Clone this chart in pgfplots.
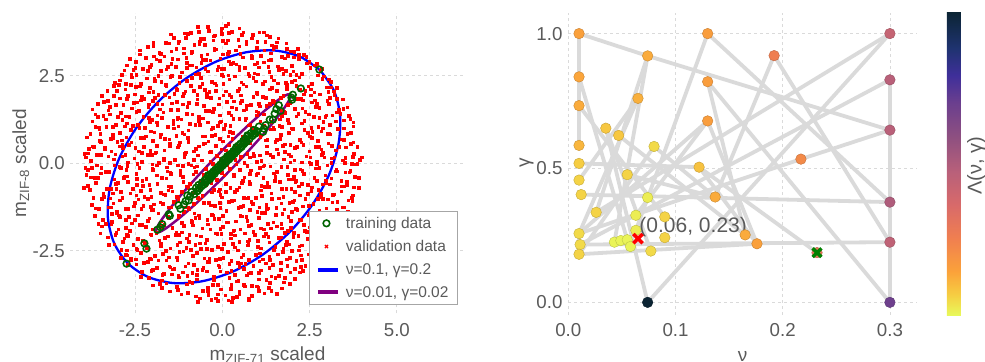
\documentclass[border=0pt]{standalone}
\usepackage{pgfplots}
\pgfplotsset{compat=1.18}
\usepackage{pgfplotstable}
\usepackage{fontspec}
\setmainfont{Liberation Sans}
\definecolor{txtgray}{RGB}{90,90,90}
\definecolor{gridgray}{RGB}{218,218,218}
\definecolor{edgegray}{RGB}{218,218,218}
\definecolor{traingreen}{RGB}{0,100,0}
\definecolor{svmblue}{RGB}{0,0,255}
\definecolor{svmpurple}{RGB}{128,0,128}
\definecolor{xgreen}{RGB}{0,128,0}
\newcommand{\ticksize}{\fontsize{18.7bp}{22bp}\selectfont}
\newcommand{\legsize}{\fontsize{15.5bp}{18bp}\selectfont}
\newcommand{\labsize}{\fontsize{19bp}{23bp}\selectfont}
\tikzset{edge/.style={draw=edgegray, line width=3.8bp}}
\pgfplotsset{linelegend/.style={legend image code/.code={\draw[##1, line width=4bp] (0bp,0bp) -- (20bp,0bp);}}}
\begin{document}
\pgfplotstableread[row sep=\\]{
x y\\
-0.70 -3.96\\ -0.40 -3.76\\ -0.18 -3.86\\ 0.27 -3.95\\ 0.42 -3.82\\ 0.75 -3.90\\
-1.50 -3.66\\ -1.30 -3.53\\ -0.99 -3.70\\ -0.56 -3.63\\ -0.42 -3.55\\ -0.13 -3.74\\ 0.24 -3.59\\ 0.48 -3.68\\ 0.65 -3.51\\ 1.05 -3.64\\ 1.33 -3.56\\ 1.55 -3.73\\
-2.00 -3.49\\ -1.73 -3.34\\ -1.61 -3.43\\ -1.25 -3.26\\ -0.95 -3.39\\ -0.73 -3.31\\ -0.28 -3.48\\ -0.13 -3.47\\ 0.20 -3.27\\ 0.46 -3.36\\ 0.85 -3.50\\ 1.05 -3.32\\ 1.36 -3.41\\ 1.79 -3.28\\ 1.93 -3.45\\
-2.33 -3.25\\ -2.04 -3.07\\ -1.67 -3.16\\ -1.43 -3.03\\ -1.26 -3.20\\ -0.86 -3.13\\ -0.58 -3.05\\ -0.24 -3.24\\ -0.06 -3.09\\ 0.35 -3.18\\ 0.62 -3.01\\ 0.74 -3.14\\ 1.10 -3.06\\ 1.40 -3.23\\ 1.62 -3.22\\ 2.07 -3.02\\ 2.22 -3.11\\
-2.62 -2.76\\ -2.47 -2.89\\ -2.14 -2.81\\ -1.88 -2.98\\ -1.49 -2.97\\ -1.29 -2.77\\ -0.98 -2.86\\ -0.55 -2.99\\ -0.41 -2.82\\ -0.12 -2.91\\ 0.25 -2.78\\ 0.49 -2.95\\ 0.66 -2.88\\ 1.06 -2.80\\ 1.34 -2.99\\ 1.68 -2.84\\ 1.86 -2.93\\ 2.27 -2.76\\ 2.54 -2.89\\ 2.66 -2.81\\
-2.90 -2.70\\ -2.73 -2.63\\ -2.33 -2.55\\ -2.05 -2.74\\ -1.71 -2.59\\ -1.53 -2.68\\ -1.12 -2.51\\ -0.85 -2.64\\ -0.73 -2.56\\ -0.37 -2.73\\ -0.07 -2.72\\ 0.15 -2.52\\ 0.60 -2.61\\ 0.75 -2.75\\ 1.08 -2.57\\ 1.34 -2.66\\ 1.73 -2.53\\ 1.93 -2.70\\ 2.24 -2.63\\ 2.67 -2.55\\ 2.81 -2.74\\
-3.10 -2.31\\ -2.74 -2.48\\ -2.44 -2.47\\ -2.22 -2.27\\ -1.77 -2.36\\ -1.62 -2.50\\ -1.29 -2.32\\ -1.03 -2.41\\ -0.64 -2.28\\ -0.44 -2.45\\ -0.13 -2.38\\ 0.30 -2.30\\ 0.44 -2.49\\ 0.73 -2.34\\ 1.10 -2.43\\ 1.34 -2.26\\ 1.51 -2.39\\ 1.91 -2.31\\ 2.19 -2.48\\ 2.53 -2.47\\ 2.71 -2.27\\ 3.12 -2.36\\
-3.28 -2.11\\ -2.85 -2.25\\ -2.71 -2.07\\ -2.42 -2.16\\ -2.05 -2.03\\ -1.81 -2.20\\ -1.64 -2.13\\ -1.24 -2.05\\ -0.96 -2.24\\ -0.62 -2.09\\ -0.44 -2.18\\ -0.03 -2.01\\ 0.24 -2.14\\ 0.36 -2.06\\ 0.72 -2.23\\ 1.02 -2.22\\ 1.24 -2.02\\ 1.69 -2.11\\ 1.84 -2.25\\ 2.17 -2.07\\ 2.43 -2.16\\ 2.82 -2.03\\ 3.02 -2.20\\ 3.33 -2.13\\
-3.45 -1.80\\ -3.04 -1.99\\ -2.77 -1.84\\ -2.65 -1.93\\ -2.29 -1.76\\ -1.99 -1.89\\ -1.77 -1.81\\ -1.32 -1.98\\ -1.17 -1.97\\ -0.84 -1.77\\ -0.58 -1.86\\ -0.19 -2.00\\ 0.01 -1.82\\ 0.32 -1.91\\ 0.75 -1.78\\ 0.89 -1.95\\ 1.18 -1.88\\ 1.55 -1.80\\ 1.79 -1.99\\ 1.96 -1.84\\ 2.36 -1.93\\ 2.64 -1.76\\ 2.98 -1.89\\ 3.16 -1.81\\ 3.45 -1.98\\
-3.55 -1.73\\ -3.18 -1.72\\ -2.94 -1.52\\ -2.77 -1.61\\ -2.37 -1.75\\ -2.09 -1.57\\ -1.75 -1.66\\ -1.57 -1.53\\ -1.16 -1.70\\ -0.89 -1.63\\ -0.77 -1.55\\ -0.41 -1.74\\ -0.11 -1.59\\ 0.11 -1.68\\ 0.56 -1.51\\ 0.71 -1.64\\ 1.04 -1.56\\ 1.30 -1.73\\ 1.69 -1.72\\ 1.89 -1.52\\ 2.20 -1.61\\ 2.63 -1.75\\ 2.77 -1.57\\ 3.06 -1.66\\ 3.43 -1.53\\
-3.62 -1.28\\ -3.17 -1.45\\ -3.02 -1.38\\ -2.69 -1.30\\ -2.43 -1.49\\ -2.04 -1.34\\ -1.84 -1.43\\ -1.53 -1.26\\ -1.10 -1.39\\ -0.96 -1.31\\ -0.67 -1.48\\ -0.30 -1.47\\ -0.06 -1.27\\ 0.11 -1.36\\ 0.51 -1.50\\ 0.79 -1.32\\ 1.13 -1.41\\ 1.31 -1.28\\ 1.72 -1.45\\ 1.99 -1.38\\ 2.11 -1.30\\ 2.47 -1.49\\ 2.77 -1.34\\ 2.99 -1.43\\ 3.44 -1.26\\ 3.59 -1.39\\
-3.74 -1.18\\ -3.46 -1.01\\ -3.12 -1.14\\ -2.94 -1.06\\ -2.53 -1.23\\ -2.26 -1.22\\ -2.14 -1.02\\ -1.78 -1.11\\ -1.48 -1.25\\ -1.26 -1.07\\ -0.81 -1.16\\ -0.66 -1.03\\ -0.33 -1.20\\ -0.07 -1.13\\ 0.32 -1.05\\ 0.52 -1.24\\ 0.83 -1.09\\ 1.26 -1.18\\ 1.40 -1.01\\ 1.69 -1.14\\ 2.06 -1.06\\ 2.30 -1.23\\ 2.47 -1.22\\ 2.87 -1.02\\ 3.15 -1.11\\ 3.49 -1.25\\ 3.72 -1.08\\
-3.80 -0.76\\ -3.41 -0.86\\ -3.21 -1.00\\ -2.90 -0.82\\ -2.47 -0.91\\ -2.33 -0.78\\ -2.04 -0.95\\ -1.67 -0.88\\ -1.43 -0.80\\ -1.26 -0.99\\ -0.86 -0.84\\ -0.58 -0.93\\ -0.24 -0.76\\ -0.06 -0.89\\ 0.35 -0.81\\ 0.62 -0.98\\ 0.74 -0.97\\ 1.10 -0.77\\ 1.40 -0.86\\ 1.62 -1.00\\ 2.07 -0.82\\ 2.22 -0.91\\ 2.55 -0.78\\ 2.81 -0.95\\ 3.20 -0.88\\ 3.40 -0.80\\ 3.71 -0.99\\
-3.86 -0.64\\ -3.64 -0.56\\ -3.19 -0.73\\ -3.04 -0.72\\ -2.71 -0.52\\ -2.45 -0.61\\ -2.06 -0.75\\ -1.86 -0.57\\ -1.55 -0.66\\ -1.12 -0.53\\ -0.98 -0.70\\ -0.69 -0.63\\ -0.32 -0.55\\ -0.08 -0.74\\ 0.09 -0.59\\ 0.49 -0.68\\ 0.77 -0.51\\ 1.11 -0.64\\ 1.29 -0.56\\ 1.70 -0.73\\ 1.97 -0.72\\ 2.09 -0.52\\ 2.45 -0.61\\ 2.75 -0.75\\ 2.97 -0.57\\ 3.42 -0.66\\ 3.57 -0.53\\ 3.90 -0.70\\
-3.90 -0.32\\ -3.66 -0.41\\ -3.49 -0.28\\ -3.09 -0.45\\ -2.81 -0.38\\ -2.47 -0.30\\ -2.29 -0.49\\ -1.88 -0.34\\ -1.61 -0.43\\ -1.49 -0.26\\ -1.13 -0.39\\ -0.83 -0.31\\ -0.61 -0.48\\ -0.16 -0.47\\ -0.01 -0.27\\ 0.32 -0.36\\ 0.58 -0.50\\ 0.97 -0.32\\ 1.17 -0.41\\ 1.48 -0.28\\ 1.91 -0.45\\ 2.05 -0.38\\ 2.34 -0.30\\ 2.71 -0.49\\ 2.95 -0.34\\ 3.12 -0.43\\ 3.52 -0.26\\ 3.80 -0.39\\
-3.93 -0.13\\ -3.60 -0.05\\ -3.34 -0.24\\ -2.95 -0.09\\ -2.75 -0.18\\ -2.44 -0.01\\ -2.01 -0.14\\ -1.87 -0.06\\ -1.58 -0.23\\ -1.21 -0.22\\ -0.97 -0.02\\ -0.80 -0.11\\ -0.40 -0.25\\ -0.12 -0.07\\ 0.22 -0.16\\ 0.40 -0.03\\ 0.81 -0.20\\ 1.08 -0.13\\ 1.20 -0.05\\ 1.56 -0.24\\ 1.86 -0.09\\ 2.08 -0.18\\ 2.53 -0.01\\ 2.68 -0.14\\ 3.01 -0.06\\ 3.27 -0.23\\ 3.66 -0.22\\ 3.86 -0.02\\
-3.91 0.17\\ -3.77 0.08\\ -3.48 0.25\\ -3.11 0.12\\ -2.87 0.20\\ -2.70 0.03\\ -2.30 0.04\\ -2.02 0.24\\ -1.68 0.15\\ -1.50 0.01\\ -1.09 0.19\\ -0.82 0.10\\ -0.70 0.23\\ -0.34 0.06\\ -0.04 0.13\\ 0.18 0.21\\ 0.63 0.02\\ 0.78 0.17\\ 1.11 0.08\\ 1.37 0.25\\ 1.76 0.12\\ 1.96 0.20\\ 2.27 0.03\\ 2.70 0.04\\ 2.84 0.24\\ 3.13 0.15\\ 3.50 0.01\\ 3.74 0.19\\ 3.93 0.10\\
-3.85 0.29\\ -3.73 0.49\\ -3.37 0.40\\ -3.07 0.26\\ -2.85 0.44\\ -2.40 0.35\\ -2.25 0.48\\ -1.92 0.31\\ -1.66 0.38\\ -1.27 0.46\\ -1.07 0.27\\ -0.76 0.42\\ -0.33 0.33\\ -0.19 0.50\\ 0.10 0.37\\ 0.47 0.45\\ 0.71 0.28\\ 0.88 0.29\\ 1.28 0.49\\ 1.56 0.40\\ 1.90 0.26\\ 2.08 0.44\\ 2.49 0.35\\ 2.76 0.48\\ 2.88 0.31\\ 3.24 0.38\\ 3.54 0.46\\ 3.76 0.27\\
-3.88 0.75\\ -3.48 0.62\\ -3.20 0.70\\ -2.86 0.53\\ -2.68 0.54\\ -2.27 0.74\\ -2.00 0.65\\ -1.88 0.51\\ -1.52 0.69\\ -1.22 0.60\\ -1.00 0.73\\ -0.55 0.56\\ -0.40 0.63\\ -0.07 0.71\\ 0.19 0.52\\ 0.58 0.67\\ 0.78 0.58\\ 1.09 0.75\\ 1.52 0.62\\ 1.66 0.70\\ 1.95 0.53\\ 2.32 0.54\\ 2.56 0.74\\ 2.73 0.65\\ 3.13 0.51\\ 3.41 0.69\\ 3.75 0.60\\
-3.78 0.85\\ -3.52 0.98\\ -3.13 0.81\\ -2.93 0.88\\ -2.62 0.96\\ -2.19 0.77\\ -2.05 0.92\\ -1.76 0.83\\ -1.39 1.00\\ -1.15 0.87\\ -0.98 0.95\\ -0.58 0.78\\ -0.30 0.79\\ 0.04 0.99\\ 0.22 0.90\\ 0.63 0.76\\ 0.90 0.94\\ 1.02 0.85\\ 1.38 0.98\\ 1.68 0.81\\ 1.90 0.88\\ 2.35 0.96\\ 2.50 0.77\\ 2.83 0.92\\ 3.09 0.83\\ 3.48 1.00\\ 3.68 0.87\\
-3.72 1.20\\ -3.54 1.03\\ -3.13 1.04\\ -2.86 1.24\\ -2.74 1.15\\ -2.38 1.01\\ -2.08 1.19\\ -1.86 1.10\\ -1.41 1.23\\ -1.26 1.06\\ -0.93 1.13\\ -0.67 1.21\\ -0.28 1.02\\ -0.08 1.17\\ 0.23 1.08\\ 0.66 1.25\\ 0.80 1.12\\ 1.09 1.20\\ 1.46 1.03\\ 1.70 1.04\\ 1.87 1.24\\ 2.27 1.15\\ 2.55 1.01\\ 2.89 1.19\\ 3.07 1.10\\ 3.48 1.23\\ 3.75 1.06\\
-3.64 1.40\\ -3.33 1.26\\ -2.90 1.44\\ -2.76 1.35\\ -2.47 1.48\\ -2.10 1.31\\ -1.86 1.38\\ -1.69 1.46\\ -1.29 1.27\\ -1.01 1.42\\ -0.67 1.33\\ -0.49 1.50\\ -0.08 1.37\\ 0.19 1.45\\ 0.31 1.28\\ 0.67 1.29\\ 0.97 1.49\\ 1.19 1.40\\ 1.64 1.26\\ 1.79 1.44\\ 2.12 1.35\\ 2.38 1.48\\ 2.77 1.31\\ 2.97 1.38\\ 3.28 1.46\\ 3.66 1.27\\
-3.57 1.71\\ -3.27 1.52\\ -3.05 1.67\\ -2.60 1.58\\ -2.45 1.75\\ -2.12 1.62\\ -1.86 1.70\\ -1.47 1.53\\ -1.27 1.54\\ -0.96 1.74\\ -0.53 1.65\\ -0.39 1.51\\ -0.10 1.69\\ 0.27 1.60\\ 0.51 1.73\\ 0.68 1.56\\ 1.08 1.63\\ 1.36 1.71\\ 1.70 1.52\\ 1.88 1.67\\ 2.29 1.58\\ 2.56 1.75\\ 2.68 1.62\\ 3.04 1.70\\ 3.34 1.53\\ 3.58 1.60\\
-3.40 1.76\\ -3.11 1.94\\ -2.74 1.85\\ -2.50 1.98\\ -2.33 1.81\\ -1.93 1.88\\ -1.65 1.96\\ -1.31 1.77\\ -1.13 1.92\\ -0.72 1.83\\ -0.45 2.00\\ -0.33 1.87\\ 0.03 1.95\\ 0.33 1.78\\ 0.55 1.79\\ 1.00 1.99\\ 1.15 1.90\\ 1.48 1.76\\ 1.74 1.94\\ 2.13 1.85\\ 2.33 1.98\\ 2.64 1.81\\ 3.07 1.88\\ 3.21 1.96\\ 3.44 1.83\\
-3.30 2.08\\ -2.96 2.25\\ -2.78 2.12\\ -2.37 2.20\\ -2.10 2.03\\ -1.98 2.04\\ -1.62 2.24\\ -1.32 2.15\\ -1.10 2.01\\ -0.65 2.19\\ -0.50 2.10\\ -0.17 2.23\\ 0.09 2.06\\ 0.48 2.13\\ 0.68 2.21\\ 0.99 2.02\\ 1.42 2.17\\ 1.56 2.08\\ 1.85 2.25\\ 2.22 2.12\\ 2.46 2.20\\ 2.63 2.03\\ 3.03 2.04\\ 3.27 2.16\\
-3.08 2.31\\ -2.93 2.38\\ -2.60 2.46\\ -2.34 2.27\\ -1.95 2.42\\ -1.75 2.33\\ -1.44 2.50\\ -1.01 2.37\\ -0.87 2.45\\ -0.58 2.28\\ -0.21 2.29\\ 0.03 2.49\\ 0.20 2.40\\ 0.60 2.26\\ 0.88 2.44\\ 1.22 2.35\\ 1.40 2.48\\ 1.81 2.31\\ 2.08 2.38\\ 2.20 2.46\\ 2.56 2.27\\ 2.86 2.42\\ 3.10 2.34\\
-2.88 2.53\\ -2.61 2.54\\ -2.49 2.74\\ -2.13 2.65\\ -1.83 2.51\\ -1.61 2.69\\ -1.16 2.60\\ -1.01 2.73\\ -0.68 2.56\\ -0.42 2.63\\ -0.03 2.71\\ 0.17 2.52\\ 0.48 2.67\\ 0.91 2.58\\ 1.05 2.75\\ 1.34 2.62\\ 1.71 2.70\\ 1.95 2.53\\ 2.12 2.54\\ 2.52 2.74\\ 2.80 2.65\\
-2.65 2.99\\ -2.48 2.90\\ -2.08 2.76\\ -1.80 2.94\\ -1.46 2.85\\ -1.28 2.98\\ -0.87 2.81\\ -0.60 2.88\\ -0.48 2.96\\ -0.12 2.77\\ 0.18 2.92\\ 0.40 2.83\\ 0.85 3.00\\ 1.00 2.87\\ 1.33 2.95\\ 1.59 2.78\\ 1.98 2.79\\ 2.18 2.99\\ 2.49 2.90\\ 2.70 2.84\\
-2.36 3.23\\ -1.97 3.06\\ -1.77 3.13\\ -1.46 3.21\\ -1.03 3.02\\ -0.89 3.17\\ -0.60 3.08\\ -0.23 3.25\\ 0.01 3.12\\ 0.18 3.20\\ 0.58 3.03\\ 0.86 3.04\\ 1.20 3.24\\ 1.38 3.15\\ 1.79 3.01\\ 2.06 3.19\\ 2.18 3.10\\ 2.40 3.05\\
-1.98 3.37\\ -1.62 3.45\\ -1.32 3.28\\ -1.10 3.29\\ -0.65 3.49\\ -0.50 3.40\\ -0.17 3.26\\ 0.09 3.44\\ 0.48 3.35\\ 0.68 3.48\\ 0.99 3.31\\ 1.42 3.38\\ 1.56 3.46\\ 1.85 3.27\\
-1.48 3.69\\ -1.05 3.60\\ -0.91 3.73\\ -0.62 3.56\\ -0.25 3.63\\ -0.01 3.71\\ 0.16 3.52\\ 0.56 3.67\\ 0.84 3.58\\ 1.18 3.75\\ 1.36 3.62\\
-0.68 3.76\\ -0.42 3.91\\ -0.03 3.82\\ 0.17 3.99\\ 0.48 3.86\\
}\valpts
\pgfplotstableread{
x y c
0.010 1.000 0.15
0.074 0.917 0.13
0.130 1.000 0.16
0.192 0.918 0.26
0.300 1.000 0.43
0.010 0.839 0.14
0.130 0.821 0.16
0.300 0.828 0.47
0.010 0.732 0.13
0.065 0.759 0.12
0.035 0.648 0.08
0.047 0.621 0.08
0.130 0.675 0.16
0.300 0.641 0.47
0.010 0.584 0.11
0.080 0.580 0.05
0.010 0.517 0.07
0.122 0.503 0.09
0.217 0.533 0.22
0.010 0.455 0.06
0.055 0.475 0.06
0.012 0.401 0.06
0.074 0.390 0.02
0.137 0.392 0.13
0.300 0.373 0.50
0.026 0.335 0.06
0.063 0.324 0.02
0.090 0.318 0.06
0.010 0.256 0.05
0.063 0.268 0.02
0.090 0.241 0.06
0.043 0.224 0.01
0.049 0.230 0.01
0.055 0.233 0.01
0.058 0.208 0.01
0.011 0.215 0.05
0.010 0.179 0.06
0.077 0.191 0.05
0.165 0.251 0.13
0.176 0.218 0.15
0.300 0.224 0.45
0.232 0.185 0.30
0.074 0.000 1.00
0.300 0.000 0.69
}\hpts
\begin{tikzpicture}
\path[use as bounding box] (0bp,0bp) rectangle (985bp,362bp);
% ---------------- left panel ----------------
\begin{axis}[
  at={(70bp,48.7bp)}, anchor=south west, scale only axis,
  width=395bp, height=300bp,
  xmin=-4.36, xmax=6.95, ymin=-4.29, ymax=4.29,
  axis line style={draw=none}, tick style={draw=none},
  xtick={-2.5,0,2.5,5}, xticklabels={-2.5,0.0,2.5,5.0},
  ytick={-2.5,0,2.5}, yticklabels={-2.5,0.0,2.5},
  grid=major, major grid style={gridgray, line width=0.8bp, dash pattern=on 3bp off 3bp},
  tick label style={font=\ticksize, text=txtgray},
  xticklabel shift=6.4bp, yticklabel shift=1.7bp,
  legend style={at={(axis description cs:0.982,0.028)}, anchor=south east,
    draw=gray!70, line width=0.8bp, fill=white, font=\legsize, text=txtgray,
    inner xsep=7bp, inner ysep=4bp, row sep=6.5bp,
    /tikz/every odd column/.append style={column sep=4bp}},
  legend cell align=left,
]
\addplot[only marks, mark=square*, mark size=1.3bp, red, forget plot] table[x=x, y=y] {\valpts};
\addplot[only marks, mark=square*, mark size=1.3bp, red, forget plot] table[x=y, y=x] {\valpts};
\addplot[only marks, mark=o, mark size=3.3bp, traingreen, mark options={line width=1.6bp}] coordinates {
(-2.74,-2.87) (-2.23,-2.29) (-2.17,-2.44) (2.78,2.68) (2.25,2.14) (2.02,1.96) (2.00,1.82) (1.98,1.88)
(1.62,1.66) (1.67,1.50) (1.50,1.42) (1.55,1.55) (1.36,1.25) (1.45,1.25) (1.24,1.09) (1.19,0.99) (1.17,0.90)
(1.05,1.05) (1.00,0.92) (0.95,0.85) (-1.86,-1.90) (-1.77,-1.83) (-1.72,-1.74) (-1.53,-1.46) (-1.50,-1.50)
(-1.25,-1.20) (-1.20,-1.30) (-1.10,-1.18) (-1.05,-1.08) (-0.96,-1.06) (-1.00,-0.92) (-0.92,-0.95)
(-0.88,-0.82) (-0.80,-0.88) (-0.75,-0.70) (-0.72,-0.80) (-0.68,-0.62) (-0.65,-0.72) (-0.60,-0.66)
(-0.58,-0.55) (-0.55,-0.62) (-0.50,-0.48) (-0.48,-0.56) (-0.45,-0.44) (-0.42,-0.50) (-0.38,-0.36)
(-0.35,-0.45) (-0.32,-0.30) (-0.30,-0.38) (-0.26,-0.24) (-0.22,-0.30) (-0.20,-0.18) (-0.16,-0.22)
(-0.12,-0.10) (-0.10,-0.16) (-0.06,-0.04) (-0.04,-0.12) (0.00,0.02) (0.02,-0.06) (0.05,0.08)
(0.08,0.00) (0.10,0.12) (0.12,0.05) (0.15,0.16) (0.18,0.10) (0.20,0.24) (0.22,0.14) (0.26,0.28)
(0.28,0.20) (0.32,0.35) (0.35,0.27) (0.38,0.40) (0.42,0.34) (0.45,0.50) (0.48,0.41) (0.52,0.56)
(0.56,0.48) (0.60,0.64) (0.62,0.55) (0.66,0.70) (0.70,0.62) (0.74,0.78) (0.78,0.70) (0.82,0.86)
(0.86,0.78) (0.90,0.95) (0.92,0.84)
(-0.70,-0.78) (-0.52,-0.60) (-0.40,-0.34) (-0.28,-0.34) (-0.14,-0.20) (0.04,0.10) (0.14,0.20)
(0.24,0.18) (0.30,0.26) (0.40,0.46) (0.54,0.46) (0.64,0.58) (0.72,0.80)
};
\addlegendentry{training data}
\addlegendimage{only marks, mark=x, mark size=2.2bp, red, line width=1.2bp}
\addlegendentry{validation data}
\addplot[svmblue, line width=2.3bp, smooth, linelegend] coordinates {
(2.807,2.657) (2.228,3.048) (1.501,3.225) (0.675,3.173) (-0.193,2.901) (-1.045,2.423)
(-1.823,1.773) (-2.473,0.995) (-2.951,0.143) (-3.223,-0.725) (-3.275,-1.551) (-3.098,-2.278)
(-2.707,-2.857) (-2.128,-3.248) (-1.401,-3.425) (-0.575,-3.373) (0.293,-3.101) (1.145,-2.623)
(1.923,-1.973) (2.573,-1.195) (3.051,-0.343) (3.323,0.525) (3.375,1.351) (3.198,2.078) (2.807,2.657)
};
\addlegendentry{ν=0.1, γ=0.2}
\addplot[svmpurple, line width=2.5bp, smooth, linelegend] coordinates {
(1.950,1.970) (1.886,1.974) (1.767,1.919) (1.593,1.804) (1.246,1.531) (0.817,1.154) (0.334,0.698)
(-0.170,0.195) (-0.660,-0.322) (-1.103,-0.816) (-1.468,-1.255) (-1.733,-1.608) (-1.843,-1.785)
(-1.896,-1.906) (-1.890,-1.970) (-1.826,-1.974) (-1.707,-1.919) (-1.533,-1.804) (-1.186,-1.531)
(-0.757,-1.154) (-0.274,-0.698) (0.230,-0.195) (0.720,0.322) (1.163,0.816) (1.528,1.255)
(1.793,1.608) (1.903,1.785) (1.956,1.906) (1.950,1.970)
};
\addlegendentry{ν=0.01, γ=0.02}
\end{axis}
% ---------------- right panel ----------------
\begin{axis}[
  at={(568.3bp,47bp)}, anchor=south west, scale only axis,
  width=348.4bp, height=301.7bp,
  xmin=0, xmax=0.325, ymin=-0.047, ymax=1.0755,
  axis line style={draw=none}, tick style={draw=none},
  xtick={0,0.1,0.2,0.3}, xticklabels={0.0,0.1,0.2,0.3},
  ytick={0,0.5,1}, yticklabels={0.0,0.5,1.0},
  grid=major, major grid style={gridgray, line width=0.8bp, dash pattern=on 3bp off 3bp},
  tick label style={font=\ticksize, text=txtgray},
  xticklabel shift=5bp, yticklabel shift=2.3bp,
  colormap={thermalr}{rgb255(0cm)=(232,250,91) rgb255(7cm)=(246,205,66) rgb255(14.5cm)=(251,162,58) rgb255(25.5cm)=(240,127,80) rgb255(36.5cm)=(216,106,106) rgb255(47.5cm)=(184,96,122) rgb255(58.5cm)=(143,80,128) rgb255(70cm)=(107,63,142) rgb255(79cm)=(63,47,154) rgb255(88cm)=(31,51,112) rgb255(100cm)=(11,36,51)},
  point meta min=0, point meta max=1,
  colorbar,
  colorbar style={at={(parent axis.south east)}, anchor=south west,
    xshift=21.6bp, yshift=-0.7bp, scale only axis, width=16.7bp, height=304bp,
    ytick=\empty, axis line style={draw=none}, tick style={draw=none}},
  clip=false,
]
\addplot[edge] coordinates {(0.010,1.000) (0.010,0.839) (0.010,0.732) (0.010,0.584)};
\addplot[edge] coordinates {(0.010,1.000) (0.074,0.917) (0.300,0.641)};
\addplot[edge] coordinates {(0.074,0.917) (0.026,0.335)};
\addplot[edge] coordinates {(0.074,0.917) (0.043,0.224)};
\addplot[edge] coordinates {(0.130,1.000) (0.063,0.268)};
\addplot[edge] coordinates {(0.130,1.000) (0.300,0.373)};
\addplot[edge] coordinates {(0.192,0.918) (0.137,0.392)};
\addplot[edge] coordinates {(0.192,0.918) (0.300,0.224)};
\addplot[edge] coordinates {(0.300,1.000) (0.026,0.335)};
\addplot[edge] coordinates {(0.300,1.000) (0.074,0.000)};
\addplot[edge] coordinates {(0.300,0.828) (0.011,0.215)};
\addplot[edge] coordinates {(0.300,0.828) (0.300,0.641) (0.300,0.373) (0.300,0.224) (0.300,0.000)};
\addplot[edge] coordinates {(0.300,0.641) (0.217,0.533) (0.010,0.256)};
\addplot[edge] coordinates {(0.130,0.821) (0.165,0.251)};
\addplot[edge] coordinates {(0.130,0.821) (0.300,0.000)};
\addplot[edge] coordinates {(0.130,0.675) (0.063,0.324)};
\addplot[edge] coordinates {(0.130,0.675) (0.176,0.218)};
\addplot[edge] coordinates {(0.065,0.759) (0.010,0.455)};
\addplot[edge] coordinates {(0.065,0.759) (0.010,0.256)};
\addplot[edge] coordinates {(0.035,0.648) (0.074,0.000)};
\addplot[edge] coordinates {(0.047,0.621) (0.165,0.251)};
\addplot[edge] coordinates {(0.080,0.580) (0.137,0.392)};
\addplot[edge] coordinates {(0.122,0.503) (0.176,0.218)};
\addplot[edge] coordinates {(0.012,0.401) (0.300,0.373)};
\addplot[edge] coordinates {(0.011,0.215) (0.300,0.224)};
\addplot[edge] coordinates {(0.010,0.839) (0.055,0.233)};
\addplot[edge] coordinates {(0.010,0.732) (0.090,0.318)};
\addplot[edge] coordinates {(0.010,0.179) (0.176,0.218)};
\addplot[edge] coordinates {(0.010,0.256) (0.130,0.675)};
\addplot[edge] coordinates {(0.055,0.475) (0.137,0.392)};
\addplot[edge] coordinates {(0.080,0.580) (0.010,0.179)};
\addplot[edge] coordinates {(0.010,0.517) (0.122,0.503)};
\addplot[edge] coordinates {(0.035,0.648) (0.077,0.191)};
\addplot[edge] coordinates {(0.122,0.503) (0.232,0.185)};
\addplot[edge] coordinates {(0.010,0.256) (0.010,0.215) (0.010,0.179)};
\addplot[scatter, only marks, mark=*, mark size=5.3bp, scatter src=explicit]
  table[x=x, y=y, meta=c] {\hpts};
\addplot[only marks, mark=x, mark size=6.5bp, red, line width=3.6bp] coordinates {(0.065,0.237)};
\addplot[only marks, mark=x, mark size=6.2bp, xgreen, line width=3.4bp] coordinates {(0.232,0.185)};
\node[anchor=west, inner sep=0pt, text=txtgray, font=\fontsize{21bp}{24bp}\selectfont] at (axis cs:0.0662,0.28) {(0.06, 0.23)};
\end{axis}
% ---------------- labels ----------------
\node[rotate=90, anchor=base, text=txtgray, font=\labsize, inner sep=0pt] at (26bp,198.7bp) {m\textsubscript{ZIF-8} scaled};
\node[anchor=base, text=txtgray, font=\labsize, inner sep=0pt] at (267.5bp,1.5bp) {m\textsubscript{ZIF-71} scaled};
\node[anchor=base, text=txtgray, font=\labsize, inner sep=0pt] at (742.5bp,1bp) {ν};
\node[rotate=90, anchor=base, text=txtgray, font=\labsize, inner sep=0pt] at (529.5bp,199bp) {γ};
\node[rotate=90, anchor=base, text=txtgray, font=\fontsize{20bp}{24bp}\selectfont, inner sep=0pt] at (981.5bp,196.2bp) {Λ(ν, γ)};
\end{tikzpicture}
\end{document}
